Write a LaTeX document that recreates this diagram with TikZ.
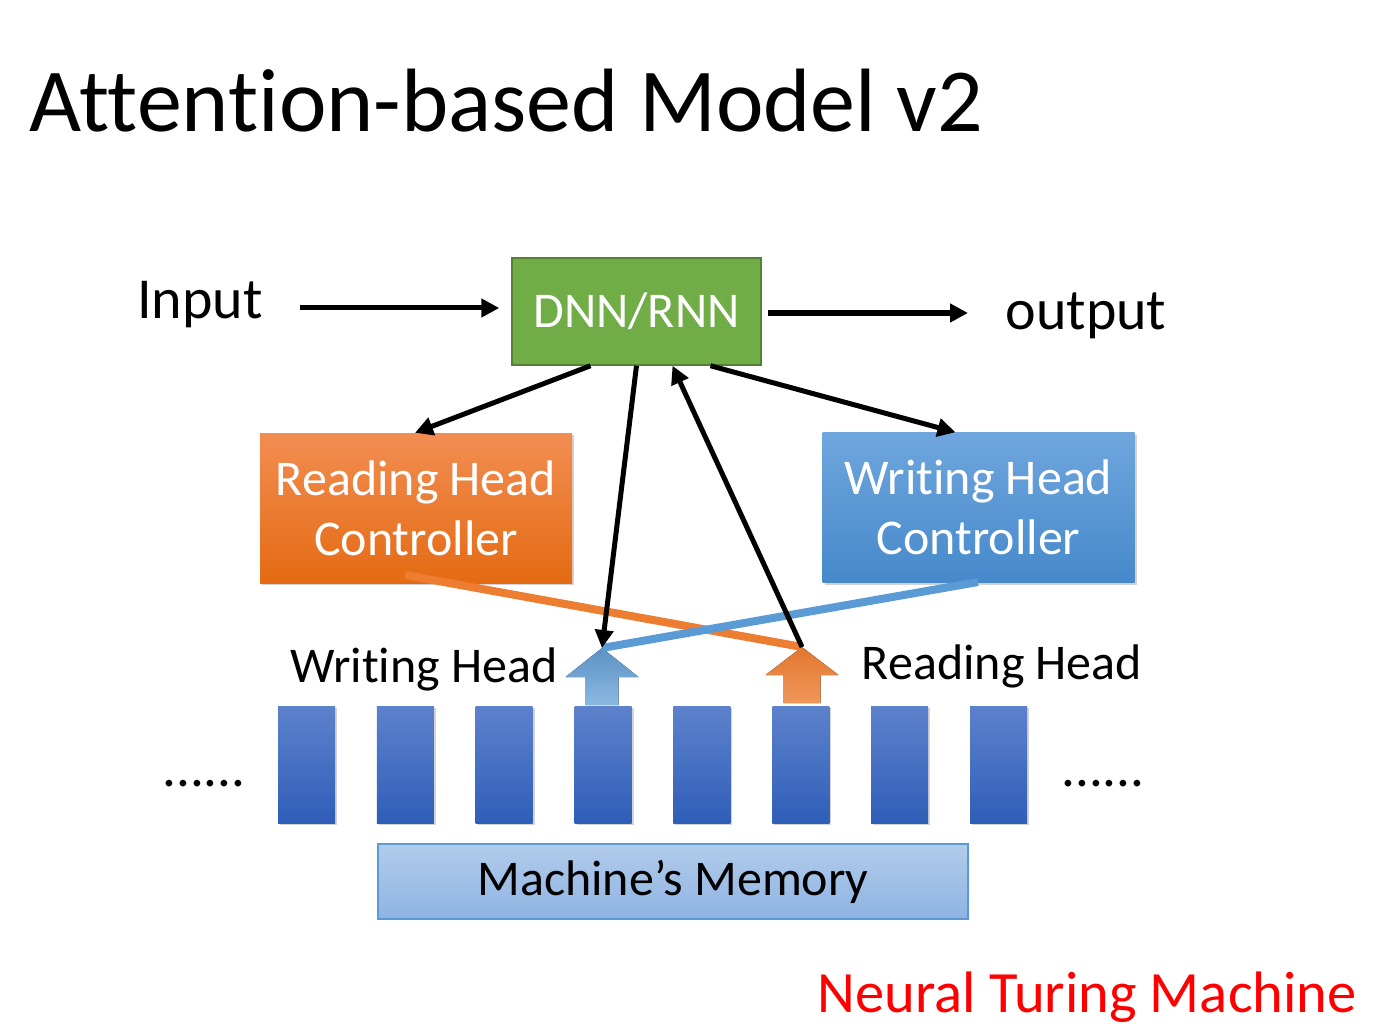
\documentclass[tikz,border=0pt]{standalone}
\usepackage{fontspec}
\setmainfont[Ligatures=NoCommon]{Carlito}
\usetikzlibrary{arrows.meta,shadows}

\definecolor{dnngreen}{HTML}{70AD47}
\definecolor{dnnedge}{HTML}{548235}
\definecolor{rdtop}{HTML}{F28D52}
\definecolor{rdbot}{HTML}{E46B13}
\definecolor{wrtop}{HTML}{6FA6DD}
\definecolor{wrbot}{HTML}{4689CB}
\definecolor{celltop}{HTML}{5D82CC}
\definecolor{cellbot}{HTML}{2F5EB8}
\definecolor{memtop}{HTML}{B2CCEA}
\definecolor{membot}{HTML}{8EB3E3}
\definecolor{memedge}{HTML}{5B9BD5}
\definecolor{rdline}{HTML}{ED7D31}
\definecolor{wrline}{HTML}{5B9BD5}
\definecolor{ntmred}{HTML}{FF0000}

\begin{document}
\begin{tikzpicture}[x=1pt,y=-1pt,
    fsz/.style={font=\fontsize{#1}{#1}\selectfont},
    ctrl/.style={minimum width=312pt,minimum height=150pt,inner sep=0pt,
      align=center,text=white,font=\fontsize{50}{60}\selectfont,
      drop shadow={opacity=.35,shadow xshift=2pt,shadow yshift=-2pt}},
    cell/.style={minimum width=57pt,minimum height=117pt,inner sep=0pt,
      top color=celltop,bottom color=cellbot,
      drop shadow={opacity=.35,shadow xshift=2pt,shadow yshift=-2pt}},
    flow/.style={line width=5pt,-{Triangle[length=18pt,width=18pt]}}]

  \useasboundingbox (0,0) rectangle (1377,1035);

  % title
  \node[fsz=90,anchor=base west,inner sep=0pt] (title) at (29,132) {Attention-based Model v2};

  \begin{scope}[every node/.style={inner sep=0pt}]
    \node[fsz=58] (input)  at (200,305) {Input};
    \node[fsz=58] (output) at (1086,316) {output};
    \node[fsz=50,text=white,fill=dnngreen,draw=dnnedge,line width=1.5pt,
      minimum width=249pt,minimum height=107pt] (dnn) at (636.5,311.5) {DNN/RNN};
  \end{scope}

  \node[ctrl,top color=rdtop,bottom color=rdbot] (rdctrl) at (416,508) {Reading Head\\Controller};
  \node[ctrl,top color=wrtop,bottom color=wrbot] (wrctrl) at (978.5,507.5) {Writing Head\\Controller};

  % memory cells
  \foreach \i in {1,...,8}
    \node[cell] (c\i) at ({306.5+(\i-1)*98.86},764.5) {};

  \node[minimum width=590pt,minimum height=75pt,inner sep=0pt,
    top color=memtop,bottom color=membot,draw=memedge,line width=1.5pt,
    fsz=50] (mem) at (673,881.5) {Machine’s Memory};

  \begin{scope}[every node/.style={inner sep=0pt}]
    \node[fsz=55] (dotsl) at (204,784) {......};
    \node[fsz=55] (dotsr) at (1103,784) {......};
    \node[fsz=50] (wrlabel) at (424,669) {Writing Head};
    \node[fsz=50] (rdlabel) at (1002,666) {Reading Head};
    \node[fsz=58.5,text=ntmred,anchor=base east] (ntm) at (1357,1012) {Neural Turing Machine};
  \end{scope}

  % head arrows
  \coordinate (wtip) at (602,648);
  \coordinate (rtip) at (802,647);
  \fill[top color=wrline!90!black!95,bottom color=wrline!70!white]
    (wtip) -- ++(36.5,29) -- ++(-20,0) -- ++(0,28) -- ++(-33,0) -- ++(0,-28) -- ++(-20,0) -- cycle;
  \fill[top color=rdline!95!black,bottom color=rdline!80!white]
    (rtip) -- ++(36.5,28) -- ++(-18,0) -- ++(0,28) -- ++(-37,0) -- ++(0,-28) -- ++(-18,0) -- cycle;

  % controller links
  \coordinate (rdfoot) at (405,575);
  \coordinate (wrfoot) at (978,582);
  \draw[rdline,line width=8pt] (rdfoot) -- (rtip);
  \draw[wrline,line width=8pt] (wrfoot) -- (wtip);

  \coordinate (inA) at (300,308);
  \coordinate (outA) at (768,313);
  \coordinate (outB) at (968,313);

  \begin{scope}[every edge/.style={draw,flow}]
    \path (inA) edge ([xshift=-12pt]dnn.west |- inA);
    \path (outA) edge (outB);
    \path ([xshift=-46pt]dnn.south) edge ([xshift=-1pt]rdctrl.north);
    \path ([xshift=74pt]dnn.south) edge ([xshift=-23pt]wrctrl.north);
    \path (dnn.south) edge (wtip);
    \path (rtip) edge ([xshift=36pt]dnn.south);
  \end{scope}

\end{tikzpicture}
\end{document}
